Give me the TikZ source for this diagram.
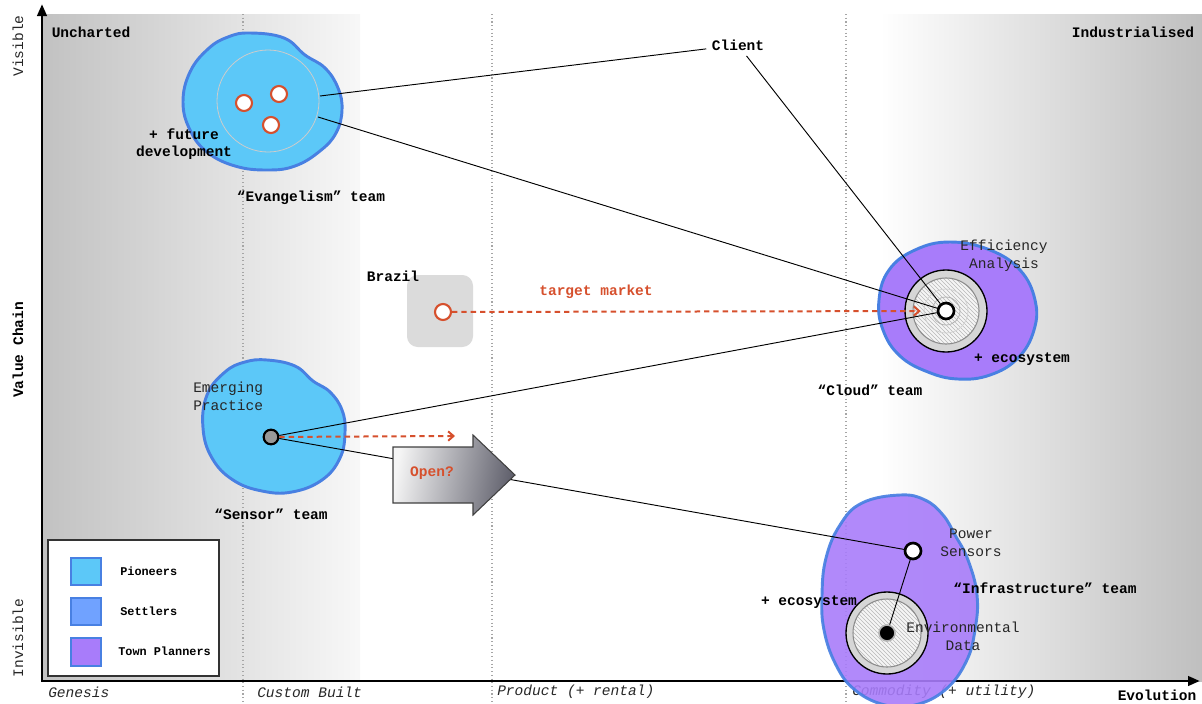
\documentclass[tikz,border=0pt]{standalone}
\usepackage{fontspec}
\setmainfont{Liberation Mono}
\usetikzlibrary{patterns,arrows.meta}
\definecolor{pio}{RGB}{92,200,248}
\definecolor{setl}{RGB}{112,162,255}
\definecolor{town}{RGB}{168,124,250}
\definecolor{blobedge}{RGB}{72,128,226}
\definecolor{redc}{RGB}{214,80,45}
\definecolor{arrowdark}{RGB}{96,96,108}
\begin{document}
\begin{tikzpicture}[x=0.75pt,y=-0.75pt,
  lbl/.style={font=\fontsize{10.9}{13}\selectfont\bfseries, inner sep=0pt},
  txt/.style={font=\fontsize{10.9}{13.5}\selectfont, inner sep=0pt, text=black!85, align=center},
  axlbl/.style={font=\fontsize{10.9}{13}\selectfont\itshape, inner sep=0pt, anchor=west, text=black!85},
  leglbl/.style={font=\fontsize{8.9}{11}\selectfont\bfseries, inner sep=0pt, anchor=west},
  blob/.style={draw=blobedge, line width=2.2pt},
  orangedot/.style={circle, draw=redc, line width=1.6pt, fill=white, minimum size=12pt, inner sep=0pt},
  whitedot/.style={circle, draw=black, line width=2pt, fill=white, minimum size=12pt, inner sep=0pt},
  link/.style={draw=black, line width=0.7pt},
  reddash/.style={draw=redc, line width=1.5pt, dash pattern=on 4pt off 3pt, -{Straight Barb[length=4pt,width=7pt]}},
  divider/.style={draw=black!35, line width=0.8pt, dotted},
  legbox/.style={draw=blobedge, line width=2pt}
]
\useasboundingbox (0,0) rectangle (1202,703);

% backgrounds
\shade[left color=black!24, right color=black!3] (42,14) rectangle (360,681);
\shade[left color=white, right color=black!25] (880,14) rectangle (1202,681);

% dividers
\draw[divider] (243,14) -- (243,703);
\draw[divider] (492,14) -- (492,703);
\draw[divider] (846,14) -- (846,703);

% axes
\draw[line width=2.2pt, line join=miter, {Triangle[length=9pt,width=7pt]}-{Triangle[length=9pt,width=7pt]}] (42,4) -- (42,681) -- (1200,681);

% axis labels
\node[lbl] at (91,32) {Uncharted};
\node[lbl] at (1133,32) {Industrialised};
\node[txt, rotate=90] at (18,46) {Visible};
\node[lbl, rotate=90] at (18,350) {Value Chain};
\node[txt, rotate=90] at (18,638) {Invisible};
\node[axlbl] at (48,692) {Genesis};
\node[axlbl] at (257,692) {Custom Built};
\node[axlbl] at (497,692) {Product (+ rental)};
\node[axlbl] at (852,692) {Commodity (+ utility)};
\node[lbl] at (1157,695) {Evolution};

% Evangelism blob
\filldraw[blob, fill=pio] plot[smooth cycle, tension=0.7] coordinates {(250,33) (284,38) (305,55) (325,68) (338,88) (342,110) (336,133) (320,151) (295,166) (267,170) (235,166) (207,152) (190,130) (183,102) (190,72) (208,49) (228,37)};
\draw[black!20, line width=0.6pt] (268,101) circle (51);
\node[orangedot] (ev1) at (244,103) {};
\node[orangedot] (ev2) at (279,94) {};
\node[orangedot] (ev3) at (271,125) {};
\coordinate (e1) at (320,96);
\coordinate (e2) at (318,117);
\node[lbl, align=center] (future) at (184,144) {+ future\\development};
\node[lbl] (evteam) at (311,198) {“Evangelism” team};

% Brazil
\fill[black!14, rounded corners=8pt] (407,275) rectangle (473,347);
\node[lbl] (brazillbl) at (393,276) {Brazil};

% Cloud blob
\filldraw[blob, fill=town] plot[smooth cycle, tension=0.7] coordinates {(950,242) (990,250) (1020,270) (1035,300) (1034,330) (1018,358) (990,375) (958,379) (928,372) (900,356) (883,330) (879,300) (889,270) (915,250)};
\filldraw[fill=black!16, draw=black, line width=1pt] (946,311) circle (41);
\fill[black!4] (946,311) circle (33);
\fill[pattern=north west lines, pattern color=black!28] (946,311) circle (33);
\draw[black!45, line width=0.8pt] (946,311) circle (33);
\draw[black!18, line width=0.6pt] (946,311) circle (22);
\draw[black!30, line width=0.6pt] (946,311) circle (14);
\node[whitedot] (cloudnode) at (946,311) {};
\node[txt] (effan) at (1004,256) {Efficiency\\Analysis};
\node[lbl] (ecocloud) at (1022,359) {+ ecosystem};
\node[lbl] (cloudteam) at (870,390) {“Cloud” team};

% Client
\node[lbl, inner sep=4pt] (client) at (738,45) {Client};
\draw[link] (client) -- (e1);
\draw[link] (client) -- (cloudnode);
\draw[link] (e2) -- (cloudnode);

% Brazil dot and target market
\node[orangedot] (brazil) at (443,312) {};
\draw[reddash, shorten >=12pt] (brazil) -- (cloudnode);
\node[lbl, text=redc] (target) at (596,292) {target market};

% Sensor blob
\filldraw[blob, fill=pio] plot[smooth cycle, tension=0.7] coordinates {(267,360) (295,366) (313,381) (330,392) (342,410) (345,432) (340,458) (322,480) (292,492) (262,491) (233,480) (212,458) (203,428) (207,395) (225,372) (245,362)};
\node[txt, align=left, anchor=west] (emerg) at (193,396) {Emerging\\Practice};
\node[lbl] (sensorteam) at (271,514) {“Sensor” team};
\node[circle, draw=black, fill=black!40, line width=1.6pt, minimum size=11pt, inner sep=0pt] (sensor) at (271,437) {};
\coordinate (sensorend) at (455,436);

% Infrastructure blob (over the axis)
\filldraw[blob, fill=town, fill opacity=0.9, draw opacity=0.92] plot[smooth cycle, tension=0.7] coordinates {(900,495) (925,500) (943,515) (955,535) (968,560) (977,595) (975,630) (966,662) (945,690) (915,705) (885,705) (855,690) (836,665) (824,630) (822,595) (826,558) (840,525) (862,503)};
\filldraw[fill=black!16, draw=black, line width=1pt] (887,633) circle (41);
\fill[black!4] (887,633) circle (34);
\fill[pattern=north west lines, pattern color=black!28] (887,633) circle (34);
\draw[black!45, line width=0.8pt] (887,633) circle (34);
\node[circle, fill=black, draw=black!30, line width=1.2pt, minimum size=12pt, inner sep=0pt] (env) at (887,633) {};
\node[whitedot] (power) at (913,551) {};
\node[txt] (powerlbl) at (971,543) {Power\\Sensors};
\node[txt] (envlbl) at (963,636) {Environmental\\Data};
\node[lbl] (infteam) at (1045,588) {“Infrastructure” team};
\node[lbl] (ecoinf) at (809,602) {+ ecosystem};

% links from sensor
\draw[link] (sensor) -- (cloudnode);
\draw[link] (sensor) -- (power);
\draw[link] (power) -- (env);
\draw[reddash] (sensor) -- (sensorend);

% Open? arrow
\shadedraw[left color=black!4, right color=arrowdark, shading angle=80, draw=black!75, line width=0.8pt] (393,447) -- (473,447) -- (473,435) -- (515,475) -- (473,515) -- (473,503) -- (393,503) -- cycle;
\node[lbl, text=redc] (open) at (432,473) {Open?};

% Legend
\filldraw[fill=white, draw=black!80, line width=1pt] (48,540) rectangle (219,676);
\filldraw[legbox, fill=pio] (71,558) rectangle (101,585);
\filldraw[legbox, fill=setl] (71,598) rectangle (101,625);
\filldraw[legbox, fill=town] (71,638) rectangle (101,666);
\node[leglbl] at (120,571) {Pioneers};
\node[leglbl] at (120,611) {Settlers};
\node[leglbl] at (118,651) {Town Planners};
\end{tikzpicture}
\end{document}
